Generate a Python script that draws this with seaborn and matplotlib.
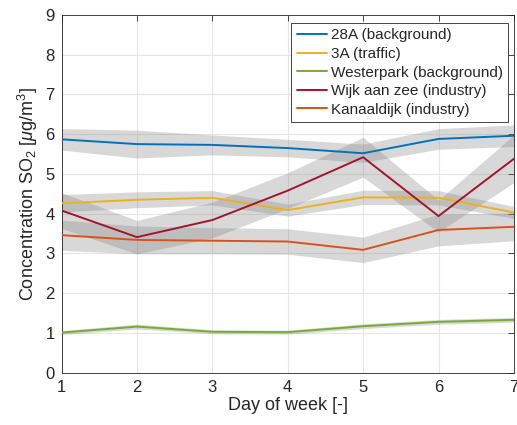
import seaborn as sns
import pandas as pd
import numpy as np
import matplotlib.pyplot as plt

days = [1, 2, 3, 4, 5, 6, 7]
stations = ['28A (background)', '3A (traffic)', 'Westerpark (background)',
            'Wijk aan zee (industry)', 'Kanaaldijk (industry)']
colors = ['#0072BD', '#EDB120', '#77AC30', '#A2142F', '#D95319']

mean_28a = [5.87, 5.75, 5.73, 5.65, 5.52, 5.88, 5.96]
mean_3a = [4.26, 4.35, 4.40, 4.09, 4.41, 4.40, 4.03]
mean_wp = [1.01, 1.16, 1.03, 1.02, 1.17, 1.28, 1.33]
mean_wijk = [4.08, 3.41, 3.84, 4.58, 5.42, 3.94, 5.38]
mean_kan = [3.46, 3.34, 3.32, 3.30, 3.09, 3.59, 3.67]

err_28a = [0.27, 0.35, 0.25, 0.22, 0.23, 0.26, 0.27]
err_3a = [0.22, 0.20, 0.18, 0.15, 0.18, 0.18, 0.15]
err_wp = [0.05, 0.06, 0.05, 0.05, 0.06, 0.06, 0.06]
err_wijk = [0.45, 0.42, 0.45, 0.45, 0.50, 0.40, 0.60]
err_kan = [0.38, 0.35, 0.33, 0.32, 0.32, 0.40, 0.35]

means = [mean_28a, mean_3a, mean_wp, mean_wijk, mean_kan]
errs = [err_28a, err_3a, err_wp, err_wijk, err_kan]

rows = []
for name, m, e in zip(stations, means, errs):
    for d, v, s in zip(days, m, e):
        rows.append({'day': d, 'station': name, 'conc': v, 'err': s})
df = pd.DataFrame(rows)

sns.set_theme(style='whitegrid')
plt.rcParams['font.family'] = ['Liberation Sans', 'DejaVu Sans']
plt.rcParams['mathtext.fontset'] = 'custom'
plt.rcParams['mathtext.rm'] = 'Liberation Sans'
plt.rcParams['mathtext.it'] = 'Liberation Sans:italic'

fig = plt.figure(figsize=(5.17, 4.25), dpi=100)
ax = fig.add_axes([0.119, 0.123, 0.875, 0.842])

# shaded bands first
for name in stations:
    sub = df[df.station == name]
    ax.fill_between(sub.day, sub.conc - sub.err, sub.conc + sub.err,
                    color='#808080', alpha=0.3, linewidth=0, zorder=1)

sns.lineplot(data=df, x='day', y='conc', hue='station', hue_order=stations,
             palette=colors, linewidth=1.4, ax=ax, zorder=3)

ax.set_xlim(1, 7)
ax.set_ylim(0, 9)
ax.set_xticks(days)
ax.set_yticks(range(0, 10))
ax.set_xlabel('Day of week [-]', fontsize=13, color='#262626', labelpad=2)
ax.set_ylabel(r'Concentration SO$_2$ [$\mathit{\mu}$g/m$^3$]', fontsize=13,
              color='#262626', labelpad=4)
ax.tick_params(axis='both', labelsize=12, colors='#262626', direction='in',
               length=4, width=0.6, top=True, right=True, pad=5)
ax.set_facecolor('white')
ax.grid(True, color='#e6e6e6', linewidth=0.8)
for sp in ax.spines.values():
    sp.set_color('#262626')
    sp.set_linewidth(0.6)
    sp.set_visible(True)

leg = ax.legend(loc='upper right', bbox_to_anchor=(0.988, 0.977), fontsize=11,
                frameon=True, fancybox=False, handlelength=2.0, handletextpad=0.25,
                borderpad=0.35, labelspacing=0.3, borderaxespad=0)
leg.get_frame().set_edgecolor('#262626')
leg.get_frame().set_linewidth(0.6)
leg.get_frame().set_alpha(1)

fig.savefig('out.png', dpi=100)
